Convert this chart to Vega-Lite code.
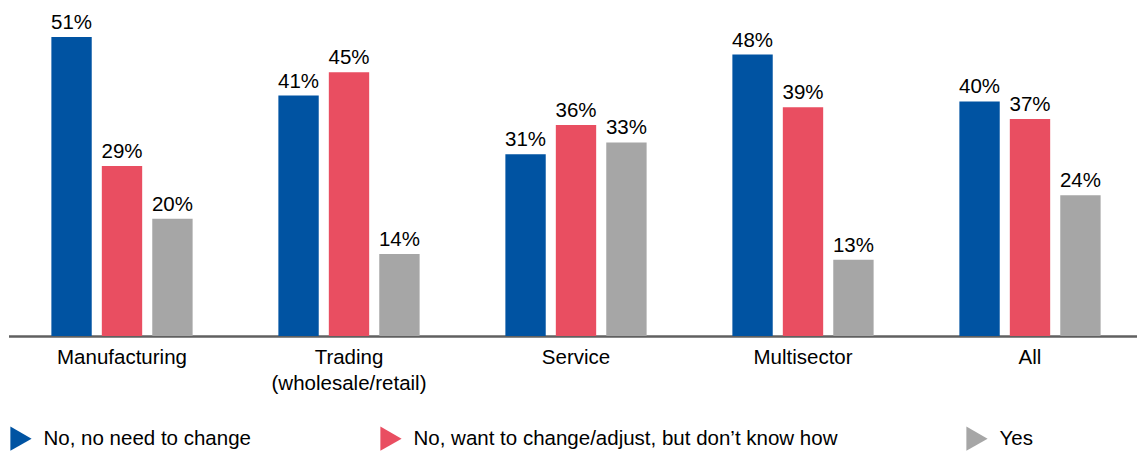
{
  "$schema": "https://vega.github.io/schema/vega-lite/v6.json",
  "width": 1128,
  "height": 336,
  "autosize": {"type": "none"},
  "padding": {"left": 8.5, "top": 0, "right": 0.5, "bottom": 116},
  "background": "white",
  "config": {
    "view": {"stroke": null},
    "font": "Liberation Sans",
    "text": {"font": "Liberation Sans"}
  },
  "data": {
    "values": [
      {"sector": "Manufacturing", "answer": "No, no need to change", "value": 0.51},
      {"sector": "Manufacturing", "answer": "No, want to change/adjust, but don’t know how", "value": 0.29},
      {"sector": "Manufacturing", "answer": "Yes", "value": 0.20},
      {"sector": "Trading (wholesale/retail)", "answer": "No, no need to change", "value": 0.41},
      {"sector": "Trading (wholesale/retail)", "answer": "No, want to change/adjust, but don’t know how", "value": 0.45},
      {"sector": "Trading (wholesale/retail)", "answer": "Yes", "value": 0.14},
      {"sector": "Service", "answer": "No, no need to change", "value": 0.31},
      {"sector": "Service", "answer": "No, want to change/adjust, but don’t know how", "value": 0.36},
      {"sector": "Service", "answer": "Yes", "value": 0.33},
      {"sector": "Multisector", "answer": "No, no need to change", "value": 0.48},
      {"sector": "Multisector", "answer": "No, want to change/adjust, but don’t know how", "value": 0.39},
      {"sector": "Multisector", "answer": "Yes", "value": 0.13},
      {"sector": "All", "answer": "No, no need to change", "value": 0.40},
      {"sector": "All", "answer": "No, want to change/adjust, but don’t know how", "value": 0.37},
      {"sector": "All", "answer": "Yes", "value": 0.24}
    ]
  },
  "encoding": {
    "x": {
      "field": "sector",
      "type": "nominal",
      "sort": null,
      "scale": {"paddingInner": 0, "paddingOuter": 0, "range": [0, 1135]},
      "axis": {
        "title": null,
        "labelAngle": 0,
        "labelFontSize": 20.5,
        "labelColor": "#000000",
        "labelPadding": 11,
        "labelLineHeight": 26,
        "labelBaseline": "top",
        "labelExpr": "datum.label == 'Trading (wholesale/retail)' ? ['Trading', '(wholesale/retail)'] : datum.label",
        "ticks": false,
        "domainColor": "#606060",
        "domainWidth": 2.5,
        "grid": false
      }
    },
    "xOffset": {
      "field": "answer",
      "type": "nominal",
      "sort": null,
      "scale": {"paddingInner": 0.2, "paddingOuter": 0.85}
    },
    "y": {
      "field": "value",
      "type": "quantitative",
      "scale": {"domain": [0, 0.573], "nice": false},
      "axis": null
    }
  },
  "layer": [
    {
      "mark": {"type": "bar"},
      "encoding": {
        "color": {
          "field": "answer",
          "type": "nominal",
          "sort": null,
          "scale": {
            "domain": ["No, no need to change", "No, want to change/adjust, but don’t know how", "Yes"],
            "range": ["#0053A2", "#E94E61", "#A6A6A6"]
          },
          "legend": {
            "title": null,
            "orient": "none",
            "direction": "horizontal",
            "legendX": 0,
            "legendY": 426,
            "symbolType": "triangle-right",
            "symbolSize": 600,
            "symbolStrokeWidth": 0,
            "labelFontSize": 20.5,
            "labelColor": "#000000",
            "labelOffset": 10,
            "labelLimit": 700,
            "columnPadding": 127
          }
        }
      }
    },
    {
      "mark": {"type": "text", "baseline": "alphabetic", "dy": -8, "fontSize": 20.5, "color": "#000000"},
      "encoding": {
        "text": {"field": "value", "type": "quantitative", "format": ".0%"},
        "detail": {"field": "answer"}
      }
    }
  ]
}
